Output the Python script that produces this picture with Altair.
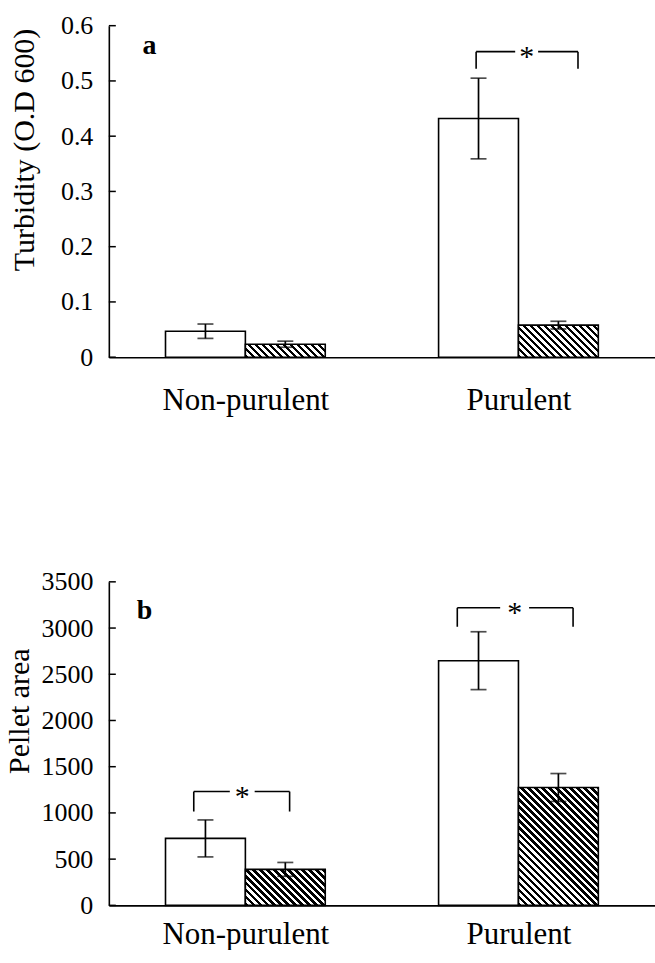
import altair as alt
import pandas as pd

# ---------------- data ----------------
groups = ["Non-purulent", "Purulent"]
group_centers = [0.5, 1.5]
bar_width = 0.2925  # in x units (x domain 0..2)

turbidity_mean_control = [0.047, 0.432]
turbidity_err_control = [0.013, 0.073]
turbidity_mean_treated = [0.0235, 0.058]
turbidity_err_treated = [0.0055, 0.007]

pellet_mean_control = [724, 2647]
pellet_err_control = [200, 313]
pellet_mean_treated = [389, 1275]
pellet_err_treated = [75, 151]

turbidity_ticks = [0, 0.1, 0.2, 0.3, 0.4, 0.5, 0.6]
pellet_ticks = [0, 500, 1000, 1500, 2000, 2500, 3000, 3500]

# significance brackets: left, gap_left, gap_right, right, top, bottom
turbidity_brackets = [[1.345, 1.488, 1.572, 1.718, 0.553, 0.522]]
pellet_brackets = [[0.311, 0.443, 0.534, 0.662, 1231, 1015],
                   [1.276, 1.433, 1.539, 1.700, 3219, 3014]]

turbidity_letter = ["a", 0.123, 0.549]
pellet_letter = ["b", 0.102, 3100]

# ---------------- layout / style ----------------
FONT = "Liberation Serif"
PLOT_W = 547
INK = "black"


def hatch_gradient(w, h, period=7.0, ink=0.52):
    """Diagonal black/white stripes at 45 deg inside a w x h px bar."""
    L = w + h
    s = w * L / (w * w + h * h)
    stops = []
    k = 0
    while True:
        t0 = k * period / L
        if t0 >= 1:
            break
        t1 = min((k + ink) * period / L, 1.0)
        t2 = min((k + 1) * period / L, 1.0)
        stops += [(t0, INK), (t1, INK), (t1, "white"), (t2, "white")]
        k += 1
    return alt.LinearGradient(
        gradient="linear",
        stops=[alt.GradientStop(offset=round(o, 5), color=c) for o, c in stops],
        x1=0, y1=1, x2=round(s, 5), y2=round(1 - s * h / w, 5),
    )


def panel(mc, ec, mt, et, ticks, fmt, title, brackets, letter, plot_h,
          title_x, title_y, xlab_pad):
    ymax = ticks[-1]
    xs = alt.Scale(domain=[0, 2], nice=False, zero=False)
    ys = alt.Scale(domain=[0, ymax], nice=False)

    rows = []
    for i, g in enumerate(groups):
        c = group_centers[i]
        rows.append(dict(group=g, kind="control", x0=c - bar_width, x1=c,
                         xc=c - bar_width / 2, mean=mc[i], base=0,
                         lo=mc[i] - ec[i], hi=mc[i] + ec[i]))
        rows.append(dict(group=g, kind="treated", x0=c, x1=c + bar_width,
                         xc=c + bar_width / 2, mean=mt[i], base=0,
                         lo=mt[i] - et[i], hi=mt[i] + et[i]))
    df = pd.DataFrame(rows)

    x_axis = alt.Axis(
        values=group_centers,
        labelExpr=f"datum.value < 1 ? '{groups[0]}' : '{groups[1]}'",
        title=None, ticks=False, tickSize=0, grid=False,
        domainColor=INK, domainWidth=1.6,
        labelFont=FONT, labelFontSize=31, labelColor=INK,
        labelPadding=xlab_pad, labelFlush=False, labelOverlap=False,
    )
    y_axis = alt.Axis(
        values=ticks, format=fmt, title=title, ticks=False, tickSize=0, grid=False,
        domainColor=INK, domainWidth=1.6,
        labelFont=FONT, labelFontSize=26, labelColor=INK, labelPadding=16,
        titleFont=FONT, titleFontSize=30, titleFontWeight="normal", titleColor=INK,
        titleX=title_x, titleY=title_y, titleBaseline="alphabetic", titleAngle=270,
    )

    def X(field):
        return alt.X(field, scale=xs, axis=x_axis, title=None)

    def Y(field):
        return alt.Y(field, scale=ys, axis=y_axis, title=title)

    white = alt.Chart(df).transform_filter("datum.kind == 'control'").mark_bar(
        fill="white", stroke=INK, strokeWidth=1.6
    ).encode(
        x=X("x0:Q"), x2="x1:Q",
        y=Y("mean:Q"), y2="base:Q",
    )

    layers = [white]
    for i, g in enumerate(groups):
        h_px = mt[i] / ymax * plot_h
        w_px = bar_width * PLOT_W / 2
        hatched = alt.Chart(df).transform_filter(
            f"datum.kind == 'treated' && datum.group == '{g}'"
        ).mark_bar(
            fill=hatch_gradient(w_px, h_px), stroke=INK, strokeWidth=1.6
        ).encode(
            x=X("x0:Q"), x2="x1:Q",
            y=Y("mean:Q"), y2="base:Q",
        )
        layers.append(hatched)

    err = alt.Chart(df).mark_rule(color=INK, strokeWidth=1.7).encode(
        x=X("xc:Q"),
        y=Y("lo:Q"), y2="hi:Q",
    )
    caps_df = pd.concat([
        df[["xc", "lo"]].rename(columns={"lo": "v"}),
        df[["xc", "hi"]].rename(columns={"hi": "v"}),
    ])
    caps = alt.Chart(caps_df).mark_tick(
        color=INK, orient="horizontal", size=16, thickness=1.7
    ).encode(
        x=X("xc:Q"),
        y=Y("v:Q"),
    )
    layers += [err, caps]

    # brackets
    seg_rows, star_rows = [], []
    for (l, gl, gr, r, top, bot) in brackets:
        seg_rows += [
            dict(xa=l, xb=l, ya=bot, yb=top),
            dict(xa=r, xb=r, ya=bot, yb=top),
            dict(xa=l, xb=gl, ya=top, yb=top),
            dict(xa=gr, xb=r, ya=top, yb=top),
        ]
        star_rows.append(dict(x=(gl + gr) / 2, y=top, t="*"))
    segs = alt.Chart(pd.DataFrame(seg_rows)).mark_rule(color=INK, strokeWidth=1.6).encode(
        x=X("xa:Q"), x2="xb:Q",
        y=Y("ya:Q"), y2="yb:Q",
    )
    stars = alt.Chart(pd.DataFrame(star_rows)).mark_text(
        font=FONT, fontSize=30, color=INK, baseline="middle", align="center", dy=5
    ).encode(
        x=X("x:Q"),
        y=Y("y:Q"),
        text="t:N",
    )
    letter_df = pd.DataFrame([dict(t=letter[0], x=letter[1], y=letter[2])])
    let = alt.Chart(letter_df).mark_text(
        font=FONT, fontSize=28, fontWeight="bold", color=INK, align="left", baseline="alphabetic"
    ).encode(
        x=X("x:Q"),
        y=Y("y:Q"),
        text="t:N",
    )
    tick_marks = alt.Chart(pd.DataFrame({"t": ticks})).mark_rule(
        color=INK, strokeWidth=1.5
    ).encode(
        x=alt.value(0), x2=alt.value(7),
        y=Y("t:Q"),
    )
    layers += [segs, stars, let, tick_marks]

    return alt.layer(*layers).properties(width=PLOT_W, height=plot_h)


panel_a = panel(turbidity_mean_control, turbidity_err_control,
                turbidity_mean_treated, turbidity_err_treated,
                turbidity_ticks, ".1~f", "Turbidity (O.D 600)",
                turbidity_brackets, turbidity_letter, 332,
                title_x=-75, title_y=124, xlab_pad=28)

panel_b = panel(pellet_mean_control, pellet_err_control,
                pellet_mean_treated, pellet_err_treated,
                pellet_ticks, "d", "Pellet area",
                pellet_brackets, pellet_letter, 324,
                title_x=-80, title_y=129, xlab_pad=14)

chart = alt.vconcat(panel_a, panel_b, spacing=154).properties(
    padding={"left": 5, "top": 12, "right": 0, "bottom": 0},
    background="white",
).configure_view(stroke=None)

chart.save("out.html", embed_options={"renderer": "svg", "actions": False})
